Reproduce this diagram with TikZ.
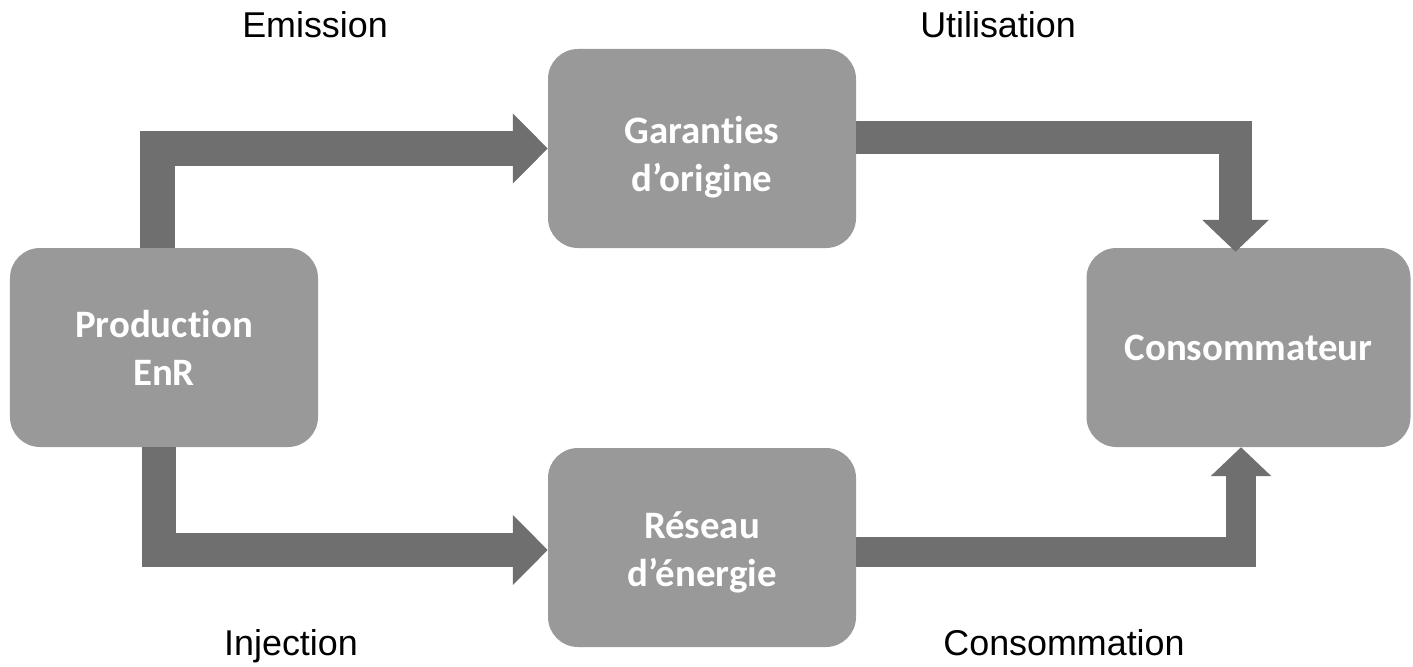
\documentclass[tikz,border=0pt]{standalone}
\usepackage{fontspec}
\setmainfont{Liberation Sans}
\newfontfamily\boxfont[Ligatures=NoCommon]{Carlito}
\usetikzlibrary{arrows.meta,calc}
\definecolor{boxgray}{HTML}{999999}
\definecolor{flowgray}{HTML}{6F6F6F}
\begin{document}
\begin{tikzpicture}[x=1bp,y=-1bp,
  block/.style={fill=boxgray, rounded corners=30bp, inner sep=0pt,
    minimum height=199bp},
  blocktext/.style={inner sep=0pt, text=white, align=center,
    font=\boxfont\bfseries\fontsize{39}{48}\selectfont},
  flow/.style={draw=flowgray, line width=#1, line cap=butt, line join=miter},
  flowhead/.style 2 args={-{Triangle[length=#1, width=#2]}},
  caption/.style={anchor=base, inner sep=0pt, font=\fontsize{36}{43}\selectfont}]
  \useasboundingbox (0,0) rectangle (1413,667);

  % the four blocks
  \node[block, minimum width=308bp] (prod) at (164,347.5) {};
  \node[block, minimum width=308bp] (gar)  at (702,148.5) {};
  \node[block, minimum width=308bp] (res)  at (702,547.5) {};
  \node[block, minimum width=324bp] (cons) at (1248.5,347.5) {};

  % block labels
  \node[blocktext] (prodtxt) at (prod.center) {Production\\EnR};
  \node[blocktext] (gartxt)  at ($(gar.center)+(0,9)$) {Garanties\\d’origine};
  \node[blocktext] (restxt)  at ($(res.center)+(0,5)$) {Réseau\\d’énergie};
  \node[blocktext] (constxt) at (cons.center) {Consommateur};

  % captions
  \node[caption] (emi) at (315,38)   {Emission};
  \node[caption] (uti) at (998,38)   {Utilisation};
  \node[caption] (inj) at (291,655)  {Injection};
  \node[caption] (csm) at (1064,655) {Consommation};

  % block arrows
  \coordinate (p1) at ($(prod.north)+(-6.5,0)$);
  \coordinate (p2) at ($(prod.south)+(-5.5,0)$);
  \coordinate (g1) at ($(gar.east)+(0,-11)$);
  \coordinate (c1) at ($(cons.north)+(-13,4)$);
  \coordinate (r1) at ($(res.east)+(0,4.5)$);
  \coordinate (c2) at ($(cons.south)+(-7.5,0)$);

  \draw[flow=35bp, flowhead={35bp}{68bp}] (p1) |- (gar.west);
  \draw[flow=34bp, flowhead={35bp}{68bp}] (p2) |- ($(res.west)+(0,2.5)$);
  \draw[flow=33bp, flowhead={32bp}{65bp}] (g1) -| (c1);
  \draw[flow=30bp, flowhead={29bp}{59bp}] (r1) -| (c2);
\end{tikzpicture}
\end{document}
